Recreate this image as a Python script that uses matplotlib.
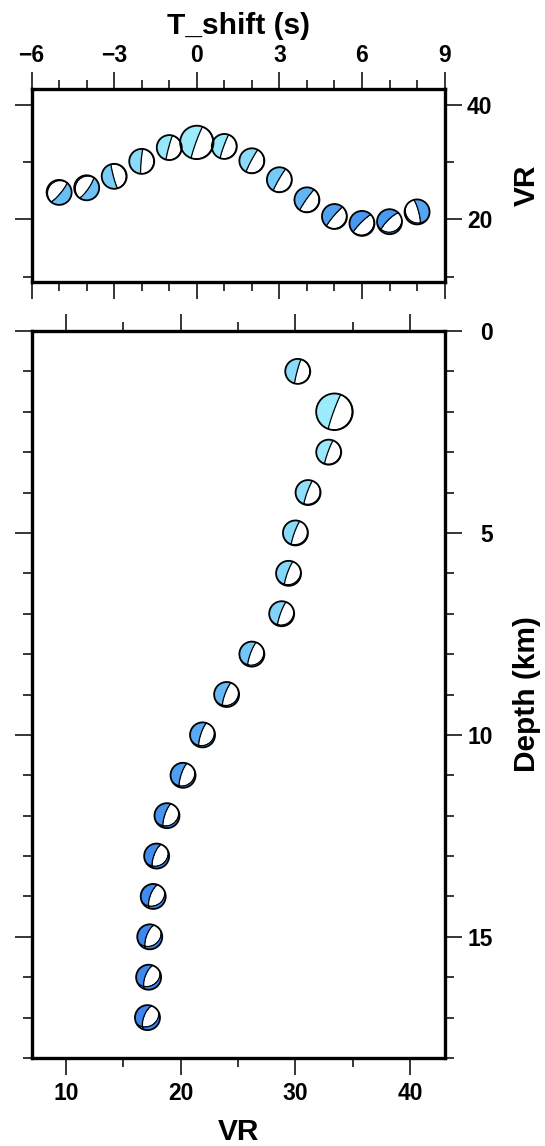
import numpy as np
import matplotlib
matplotlib.use("Agg")
import matplotlib.pyplot as plt
from matplotlib import transforms
from matplotlib.patches import Circle
from matplotlib.colors import LinearSegmentedColormap, Normalize
from matplotlib.ticker import MultipleLocator

# ---------------- data ----------------
tshift = [-5, -4, -3, -2, -1, 0, 1, 2, 3, 4, 5, 6, 7, 8]
vr_tshift = [24.7, 25.5, 27.5, 30.1, 32.5, 33.4, 32.7, 30.2, 26.9, 23.4, 20.5, 19.3, 19.6, 21.3]
strike_tshift = [40, 35, 165, 185, 195, 200, 200, 208, 210, 215, 220, 225, 225, 345]
dip_tshift = [80, 78, 85, 86, 86, 86, 86, 86, 86, 85, 84, 82, 76, 80]
rake_tshift = [-90, -90, -90, -90, -90, -90, -90, -90, -90, -90, -90, -92, -100, -80]

depth = [1, 2, 3, 4, 5, 6, 7, 8, 9, 10, 11, 12, 13, 14, 15, 16, 17]
vr_depth = [30.2, 33.4, 32.9, 31.1, 30.0, 29.4, 28.8, 26.2, 24.0, 21.9, 20.2, 18.8,
            17.9, 17.6, 17.3, 17.2, 17.1]
strike_depth = [195, 200, 200, 200, 200, 200, 200, 200, 200, 198, 198, 198, 200, 200, 200, 200, 200]
dip_depth = [86, 86, 85, 84, 83, 82, 82, 80, 79, 78, 77, 75, 72, 70, 68, 67, 66]
rake_depth = [-90, -90, -92, -95, -95, -98, -98, -100, -100, -102, -102, -105, -105,
              -108, -108, -110, -110]

# ---------------- style ----------------
plt.rcParams['font.family'] = ['Liberation Sans', 'DejaVu Sans']
plt.rcParams['font.weight'] = 'bold'

W, H, DPI = 545, 1146, 100
fig = plt.figure(figsize=(W / DPI, H / DPI), dpi=DPI)


def px_axes(left, top, right, bottom):
    return fig.add_axes([left / W, 1 - bottom / H, (right - left) / W, (bottom - top) / H])


ax_t = px_axes(31.6, 89, 444.6, 282)
ax_d = px_axes(31.6, 331, 444.6, 1058)

vr_cmap = LinearSegmentedColormap.from_list(
    'vr', [(0.0, '#3C87EE'), (0.48, '#6BC0F6'), (1.0, '#9CECFB')])
vr_norm = Normalize(17.0, 33.5)

# projection grid (lower hemisphere, equal area)
n = 241
g = np.linspace(-1.03, 1.03, n)
GX, GY = np.meshgrid(g, g)          # GX east, GY north
R = np.clip(np.hypot(GX, GY), 0, 1)
inc = 2 * np.arcsin(R / np.sqrt(2))
az = np.arctan2(GX, GY)
gam = np.stack([np.sin(inc) * np.cos(az), np.sin(inc) * np.sin(az), np.cos(inc)])


def moment_tensor(strike, dip, rake):
    f, d, l = np.radians([strike, dip, rake])
    sd, cd, s2d, c2d = np.sin(d), np.cos(d), np.sin(2 * d), np.cos(2 * d)
    sl, cl = np.sin(l), np.cos(l)
    sf, cf, s2f, c2f = np.sin(f), np.cos(f), np.sin(2 * f), np.cos(2 * f)
    mxx = -(sd * cl * s2f + s2d * sl * sf ** 2)
    mxy = sd * cl * c2f + 0.5 * s2d * sl * s2f
    mxz = -(cd * cl * cf + c2d * sl * sf)
    myy = sd * cl * s2f - s2d * sl * cf ** 2
    myz = -(cd * cl * sf - c2d * sl * cf)
    mzz = s2d * sl
    return np.array([[mxx, mxy, mxz], [mxy, myy, myz], [mxz, myz, mzz]])


def beachball(ax, x, y, strike, dip, rake, r_px, color):
    trans = fig.dpi_scale_trans + transforms.ScaledTranslation(x, y, ax.transData)
    r = r_px / DPI
    M = moment_tensor(strike, dip, rake)
    A = np.einsum('iab,ij,jab->ab', gam, M, gam)
    X, Y = GX * r, GY * r
    ax.add_patch(Circle((0, 0), r, transform=trans, facecolor='white',
                        edgecolor='none', zorder=3))
    clip = Circle((0, 0), r, transform=trans)
    cs = ax.contourf(X, Y, A, levels=[0, A.max() + 1], colors=[color],
                     transform=trans, zorder=4)
    cs.set_clip_path(clip)
    cl = ax.contour(X, Y, A, levels=[0], colors='k', linewidths=0.9,
                    transform=trans, zorder=5)
    cl.set_clip_path(clip)
    ax.add_patch(Circle((0, 0), r, transform=trans, facecolor='none',
                        edgecolor='k', linewidth=1.3, zorder=6))


# axes limits first (balls are positioned via transData)
ax_t.set_xlim(-6, 9)
ax_t.set_ylim(9.1, 42.7)
ax_d.set_xlim(7, 43)
ax_d.set_ylim(18, 0)

best_t = int(np.argmax(vr_tshift))
for i, (ts, vr, s, d, rk) in enumerate(zip(tshift, vr_tshift, strike_tshift, dip_tshift, rake_tshift)):
    rad = 16.7 if i == best_t else 12.5
    beachball(ax_t, ts, vr, s, d, rk, rad, vr_cmap(vr_norm(vr)))

best_d = int(np.argmax(vr_depth))
for i, (dp, vr, s, d, rk) in enumerate(zip(depth, vr_depth, strike_depth, dip_depth, rake_depth)):
    rad = 18.3 if i == best_d else 12.5
    beachball(ax_d, vr, dp, s, d, rk, rad, vr_cmap(vr_norm(vr)))

ax_t.set_xlim(-6, 9)
ax_t.set_ylim(9.1, 42.7)
ax_d.set_xlim(7, 43)
ax_d.set_ylim(18, 0)

ax_t.xaxis.set_major_locator(MultipleLocator(3))
ax_t.xaxis.set_minor_locator(MultipleLocator(1))
ax_t.yaxis.set_major_locator(MultipleLocator(20))
ax_t.yaxis.set_minor_locator(MultipleLocator(10))
ax_d.xaxis.set_major_locator(MultipleLocator(10))
ax_d.xaxis.set_minor_locator(MultipleLocator(5))
ax_d.yaxis.set_major_locator(MultipleLocator(5))
ax_d.yaxis.set_minor_locator(MultipleLocator(1))

for ax in (ax_t, ax_d):
    for sp in ax.spines.values():
        sp.set_linewidth(2.4)
    ax.tick_params(which='both', direction='out', width=1.1, color='k',
                   labelsize=16.5, top=True, bottom=True, left=True, right=True)
    ax.tick_params(which='major', length=12)
    ax.tick_params(which='minor', length=6.8)
    ax.tick_params(axis='y', which='major', pad=22.5)

ax_t.tick_params(labeltop=True, labelbottom=False, labelleft=False, labelright=True)
ax_t.tick_params(axis='x', which='major', pad=4)
ax_d.tick_params(labeltop=False, labelbottom=True, labelleft=False, labelright=True)
ax_d.tick_params(axis='x', which='major', pad=5)

for ax in (ax_t, ax_d):
    for t in ax.yaxis.get_major_ticks():
        t.label2.set_horizontalalignment('right')
    for lab in ax.get_xticklabels() + ax.get_yticklabels():
        lab.set_fontweight('bold')

lab_fs = 21.5
ax_t.set_xlabel('T_shift (s)', fontsize=lab_fs, fontweight='bold')
ax_t.xaxis.set_label_position('top')
ax_t.xaxis.set_label_coords(0.5, (282 - 26) / 193)
ax_t.xaxis.label.set_va('center')
ax_t.set_ylabel('VR', fontsize=lab_fs, fontweight='bold')
ax_t.yaxis.set_label_position('right')
ax_t.yaxis.set_label_coords((527 - 31.6) / 413, 0.5)
ax_t.yaxis.label.set_va('center')

ax_d.set_xlabel('VR', fontsize=lab_fs, fontweight='bold')
ax_d.xaxis.set_label_coords(0.5, (1058 - 1132) / 727)
ax_d.xaxis.label.set_va('center')
ax_d.set_ylabel('Depth (km)', fontsize=lab_fs, fontweight='bold')
ax_d.yaxis.set_label_position('right')
ax_d.yaxis.set_label_coords((527 - 31.6) / 413, 0.5)
ax_d.yaxis.label.set_va('center')

fig.savefig('out.png', dpi=DPI)
